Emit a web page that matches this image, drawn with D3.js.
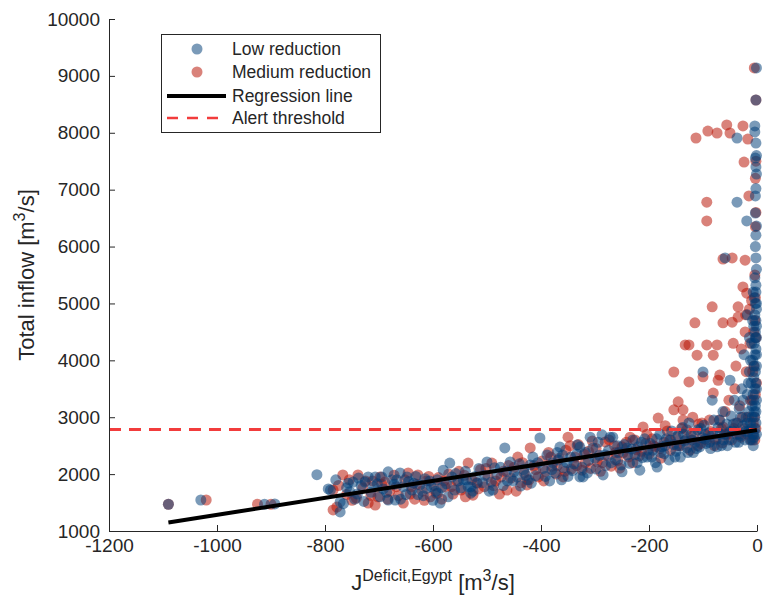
<!DOCTYPE html>
<html>
<head>
<meta charset="utf-8">
<script src="https://cdn.jsdelivr.net/npm/d3@7"></script>
<style>
  body { margin: 0; background: #fff; }
  svg text { font-family: "Liberation Sans", Arial, Helvetica, sans-serif; fill: #262626; }
</style>
</head>
<body>
<div id="chart"></div>
<script>
// values
const xTicks = [-1200, -1000, -800, -600, -400, -200, 0];
const yTicks = [1000, 2000, 3000, 4000, 5000, 6000, 7000, 8000, 9000, 10000];
const seriesNames = ['Low reduction', 'Medium reduction', 'Regression line', 'Alert threshold'];

const alertThreshold = 2785;
const regressionLine = [[-1090, 1150], [0, 2775]];

const lowReduction = [
  [-1090,1470],[-1030,1545],[-912,1470],[-893,1475],[-815,1990],
  [-794,1740],[-790,1720],[-772,1510],[-772,1335],[-766,1480],[-757,1840],[-754,1690],[-748,1860],[-745,1560],
  [-738,1930],[-733,1800],[-726,1860],[-720,1950],[-715,1680],[-707,1950],[-703,1830],[-698,1600],[-692,1740],
  [-683,2040],[-683,1545],[-676,1900],[-670,1545],[-667,1900],[-661,2020],[-655,1780],[-650,1640],[-645,1870],
  [-639,1720],[-632,1960],[-624,1810],[-618,1620],[-612,1750],[-606,1880],
  [-780,1900],[-760,1760],[-740,1650],[-728,1520],[-710,1780],[-695,1950],[-686,1680],[-672,1820],[-660,1560],
  [-648,1950],[-636,1840],[-628,1640],[-615,1920],[-603,1780],
  [-600,1540],[-595,1700],[-591,1665],[-587,1490],[-581,2070],[-575,1830],[-569,2195],[-565,1950],[-560,1720],
  [-553,1880],[-544,1900],[-540,2050],[-535,1780],[-530,1775],[-530,1665],[-522,1960],[-515,2100],[-508,1850],
  [-500,2215],[-496,1700],[-489,1720],[-482,1990],[-475,2120],[-467,2460],[-462,1880],[-457,2215],[-450,2040],
  [-444,1950],[-438,1790],[-432,2080],[-425,1900],[-420,2160],[-415,2300],[-410,1970],[-402,2635],
  [-592,1900],[-584,1760],[-572,1600],[-558,2010],[-548,1760],[-538,1900],[-526,1700],[-518,1840],[-504,1980],
  [-492,1860],[-486,2110],[-470,1800],[-464,2050],[-452,1880],[-440,2180],[-428,1980],[-418,1840],[-406,2200],
  [-396,2100],[-389,2335],[-384,1880],[-378,2200],[-374,2020],[-368,2250],[-365,2476],[-360,2335],[-358,2110],
  [-350,1960],[-345,2300],[-339,2180],[-333,2510],[-328,2476],[-328,1950],[-322,1950],[-318,2380],[-312,2240],
  [-309,2650],[-304,2460],[-298,2090],[-292,2330],[-287,2690],[-285,1985],[-280,2150],[-275,2420],[-272,2650],
  [-267,2650],[-262,2250],[-256,2380],[-250,2040],[-246,2520],[-241,2460],[-236,2190],[-230,2600],[-226,2340],
  [-220,2480],[-217,2070],[-212,2290],[-208,2620],[-204,2300],
  [-392,1960],[-380,2080],[-370,2380],[-362,1900],[-352,2200],[-342,2060],[-334,2350],[-324,2120],[-314,2020],
  [-300,2280],[-294,2560],[-282,2340],[-270,2200],[-258,2500],[-252,2160],[-240,2340],[-232,2440],[-222,2200],
  [-214,2560],[-202,2420],
  [-198,2540],[-193,2420],[-188,2200],[-185,2125],[-180,2700],[-176,2480],[-172,2360],[-168,2620],[-163,2250],
  [-158,2760],[-154,2520],[-150,2400],[-146,2680],[-142,2300],[-138,2820],[-134,2580],[-130,2460],[-126,2900],
  [-122,2700],[-118,2380],[-114,2560],[-110,2780],[-106,2480],[-102,2640],[-100,3795],[-98,2860],[-94,2540],
  [-90,2720],[-86,2450],[-83,3300],[-80,2950],[-76,2600],[-72,2820],[-69,2950],[-66,2500],[-63,3100],[-60,2700],
  [-59,5800],[-56,2880],[-52,2600],[-50,3650],[-48,3020],[-45,2760],[-42,3300],[-40,2560],[-37,7908],[-37,6780],
  [-36,2900],[-33,3150],[-30,2680],[-28,3500],[-26,2850],[-24,4100],[-22,2600],[-19,6450],[-20,3000],[-18,3400],
  [-16,2750],[-14,3800],[-12,2900],
  [-195,2300],[-186,2620],[-178,2380],[-170,2500],[-160,2600],[-152,2300],[-144,2500],[-136,2700],[-128,2380],
  [-120,2600],[-112,2450],[-104,2800],[-96,2620],[-88,2560],[-82,2700],[-74,2480],[-68,2700],[-62,2600],
  [-55,2500],[-50,2750],[-44,2880],[-38,2700],[-34,2560],[-30,3000],[-26,3300],[-22,2750],[-18,2900],[-15,3100],
  [-13,2600],[-11,3600],[-10,2800],[-10,4300],[-9,3200],[-8,4700],[-7,2500],[-7,5200],[-6,3300],[-5,2650],
  [-5,3900],[-4,3000],[-3,4400],[-2,3100],[-1,2700],[-1,3500],[-1,4100],[-1,4600],[-1,5000],[-12,4000],
  [-14,4400],[-16,3600],[-18,4800],
  [-8,2600],[-6,2700],[-4,2800],[-2,2900],[-9,3000],[-5,3100],[-3,3200],[-1,3300],[-7,3400],[-4,3500],[-2,3600],
  [-6,3700],[-3,3800],[-1,3900],[-8,4000],[-4,4100],[-2,4200],[-5,4300],[-1,4400],[-3,4500],[-6,4600],[-2,4700],
  [-4,4800],[-1,4900],[-3,5000],[-5,5100],[-2,5200],[-2,5320],[-4,5450],[-1,5600],[-2,5800],[-3,6000],[-2,6200],
  [-1,6360],[-3,6590],[-3,6890],[-2,7020],[-1,7275],[-2,7400],[-3,7556],[-1,7600],[-2,7820],[-4,8015],[-4,8120],
  [-2,8576],[-1,9139]
];

const mediumReduction = [
  [-1090,1470],[-1020,1545],[-925,1470],[-900,1470],
  [-785,1720],[-785,1370],[-778,1420],[-767,1985],[-760,1640],[-750,1540],[-739,1985],[-730,1760],[-720,1490],
  [-712,1880],[-707,1455],[-702,1600],[-695,1820],[-689,1860],[-680,1700],[-672,1980],[-664,1620],[-655,1490],
  [-646,2020],[-640,1780],[-634,1560],[-628,1985],[-620,1700],[-612,1880],[-605,1600],
  [-775,1800],[-755,1900],[-742,1580],[-725,1880],[-715,1620],[-698,1950],[-684,1560],[-668,1780],[-652,1900],
  [-642,1650],[-630,1820],[-616,1540],[-608,1960],
  [-598,1800],[-590,1940],[-584,1560],[-578,1775],[-571,2000],[-563,1650],[-556,1880],[-548,1720],[-542,1980],
  [-535,2195],[-526,1630],[-519,1850],[-512,2080],[-505,1780],[-498,1960],[-491,2195],[-484,1880],[-477,1650],
  [-470,2050],[-463,1720],[-456,1930],[-450,2120],[-443,2300],[-437,1850],[-431,2020],[-426,1810],[-420,2460],
  [-413,2150],[-405,1950],
  [-594,1660],[-580,1880],[-566,1780],[-552,2050],[-540,1600],[-528,1900],[-516,1740],[-502,2100],[-488,1800],
  [-474,1950],[-460,2150],[-446,1700],[-434,2200],[-422,1900],[-410,2080],
  [-398,2230],[-392,2050],[-386,2380],[-380,2140],[-372,2000],[-366,2280],[-359,1950],[-354,2420],[-350,2650],
  [-344,2090],[-337,2300],[-331,2520],[-324,2070],[-318,2200],[-312,2400],[-305,2580],[-296,2215],[-290,2050],
  [-281,2565],[-276,2320],[-270,2140],[-264,2500],[-258,2240],[-254,2105],[-248,2380],[-242,2560],[-235,2650],
  [-230,2200],[-224,2430],[-218,2320],[-211,2830],[-206,2540],
  [-395,1880],[-382,2300],[-370,2150],[-356,2050],[-346,2500],[-334,2150],[-320,2350],[-308,2100],[-298,2450],
  [-286,2200],[-274,2600],[-262,2380],[-250,2480],[-238,2300],[-226,2600],[-214,2400],[-204,2700],
  [-200,2350],[-194,2620],[-188,2480],[-183,2985],[-178,2280],[-172,2560],[-166,2760],[-160,2420],[-154,3795],
  [-154,3130],[-150,2650],[-146,3270],[-142,2500],[-137,3130],[-137,2950],[-133,4270],[-130,2780],[-126,4270],
  [-126,3620],[-122,2600],[-119,3000],[-115,4660],[-113,7908],[-111,4090],[-108,2880],[-104,2540],[-100,3710],
  [-96,2700],[-93,6780],[-93,6450],[-93,4270],[-91,8030],[-88,2950],[-83,4940],[-81,3425],[-81,4090],[-78,2620],
  [-74,7996],[-74,4270],[-72,3650],[-69,3740],[-66,2800],[-63,2830],[-63,5780],[-63,4660],[-59,3100],[-56,8137],
  [-54,2700],[-50,7996],[-46,5800],[-46,4670],[-44,4300],[-41,3500],[-38,2900],[-35,4760],[-35,4940],[-32,3200],
  [-30,2650],[-26,8120],[-26,5290],[-24,7486],[-22,5760],[-22,4500],[-20,3800],[-19,5180],[-17,7890],[-15,6890],
  [-14,4900],[-12,3300],[-10,5050],
  [-192,2500],[-180,2450],[-170,2850],[-162,2600],[-148,2500],[-140,2800],[-132,2600],[-124,2420],[-116,2700],
  [-110,2500],[-102,2900],[-94,2600],[-86,2750],[-79,2500],[-70,2950],[-64,2550],[-57,2700],[-52,3300],
  [-47,2600],[-43,2800],[-39,3900],[-33,2700],[-29,4200],[-27,3000],[-23,2800],[-21,4800],[-18,2700],[-16,3000],
  [-13,4300],[-11,2600],[-9,3300],[-8,3800],[-6,4500],[-4,2600],[-3,5100],[-2,2800],
  [-8,2700],[-5,3000],[-3,3400],[-6,3900],[-2,4400],[-4,5500],[-3,6350],[-2,6600],[-3,7200],[-2,7500],[-5,9139],
  [-2,8576],[-7,2900],[-1,3600],[-4,4700]
];

const BLUE = '#003d76';
const RED = '#b61000';
const ALERT = '#f23c3c';
const ALPHA = 0.52;
const R = 5.5;

const width = 764, height = 599;
const margin = {left: 109, right: 7, top: 19, bottom: 68};

const svg = d3.select('#chart').append('svg')
  .attr('width', width)
  .attr('height', height)
  .style('display', 'block');

const x = d3.scaleLinear().domain([-1200, 0]).range([margin.left, width - margin.right]);
const y = d3.scaleLinear().domain([1000, 10000]).range([height - margin.bottom, margin.top]);

// points: medium first, low on top
const pts = svg.append('g').attr('class', 'points');
pts.selectAll('circle.med')
  .data(mediumReduction)
  .join('circle')
  .attr('class', 'med')
  .attr('cx', d => x(d[0]))
  .attr('cy', d => y(d[1]))
  .attr('r', R)
  .attr('fill', RED)
  .attr('fill-opacity', ALPHA);
pts.selectAll('circle.low')
  .data(lowReduction)
  .join('circle')
  .attr('class', 'low')
  .attr('cx', d => x(d[0]))
  .attr('cy', d => y(d[1]))
  .attr('r', R)
  .attr('fill', BLUE)
  .attr('fill-opacity', ALPHA);

// alert threshold
svg.append('line')
  .attr('x1', x(-1200)).attr('x2', x(0))
  .attr('y1', y(alertThreshold)).attr('y2', y(alertThreshold))
  .attr('stroke', ALERT)
  .attr('stroke-width', 3)
  .attr('stroke-dasharray', '12,8');

// regression
svg.append('path')
  .datum(regressionLine)
  .attr('d', d3.line().x(d => x(d[0])).y(d => y(d[1])))
  .attr('stroke', '#000')
  .attr('stroke-width', 4)
  .attr('fill', 'none');

// axes (ticks pointing in, plain hyphen minus like the original)
const fmt = d => String(d);
const xAxis = svg.append('g')
  .attr('transform', `translate(0,${y(1000)})`)
  .call(d3.axisBottom(x).tickValues(xTicks).tickFormat(fmt).tickSizeInner(-6).tickSizeOuter(0).tickPadding(8));
const yAxis = svg.append('g')
  .attr('transform', `translate(${x(-1200)},0)`)
  .call(d3.axisLeft(y).tickValues(yTicks).tickFormat(fmt).tickSizeInner(-6).tickSizeOuter(0).tickPadding(9));
[xAxis, yAxis].forEach(a => {
  a.select('.domain').attr('stroke', '#262626');
  a.selectAll('.tick line').attr('stroke', '#262626');
  a.selectAll('.tick text')
    .style('font-size', '19px')
    .attr('fill', '#262626');
});

// axis labels
const xl = svg.append('text')
  .attr('x', (x(-1200) + x(0)) / 2)
  .attr('y', 590)
  .attr('text-anchor', 'middle')
  .style('font-size', '22px');
xl.append('tspan').text('J');
xl.append('tspan').attr('dy', -9).style('font-size', '16px').text('Deficit,Egypt');
xl.append('tspan').attr('dy', 9).text(' [m');
xl.append('tspan').attr('dy', -9).style('font-size', '16px').text('3');
xl.append('tspan').attr('dy', 9).text('/s]');

const yl = svg.append('text')
  .attr('transform', `translate(34,${(y(1000) + y(10000)) / 2}) rotate(-90)`)
  .attr('text-anchor', 'middle')
  .style('font-size', '22px');
yl.append('tspan').text('Total inflow [m');
yl.append('tspan').attr('dy', -9).style('font-size', '16px').text('3');
yl.append('tspan').attr('dy', 9).text('/s]');

// legend
const lg = svg.append('g').attr('class', 'legend');
lg.append('rect')
  .attr('x', 161.5).attr('y', 34.5)
  .attr('width', 219).attr('height', 98)
  .attr('fill', '#fff')
  .attr('stroke', '#262626');
const rowY = [49, 72, 96, 118];
lg.append('circle').attr('cx', 197).attr('cy', rowY[0]).attr('r', R)
  .attr('fill', BLUE).attr('fill-opacity', ALPHA);
lg.append('circle').attr('cx', 197).attr('cy', rowY[1]).attr('r', R)
  .attr('fill', RED).attr('fill-opacity', ALPHA);
lg.append('line').attr('x1', 167).attr('x2', 226).attr('y1', rowY[2]).attr('y2', rowY[2])
  .attr('stroke', '#000').attr('stroke-width', 4);
lg.append('line').attr('x1', 167).attr('x2', 226).attr('y1', rowY[3]).attr('y2', rowY[3])
  .attr('stroke', ALERT).attr('stroke-width', 2.5).attr('stroke-dasharray', '11,9');
lg.selectAll('text.item')
  .data(seriesNames)
  .join('text')
  .attr('class', 'item')
  .attr('x', 232)
  .attr('y', (d, i) => rowY[i])
  .attr('dy', '0.35em')
  .style('font-size', '17.5px')
  .text(d => d);
</script>
</body>
</html>
